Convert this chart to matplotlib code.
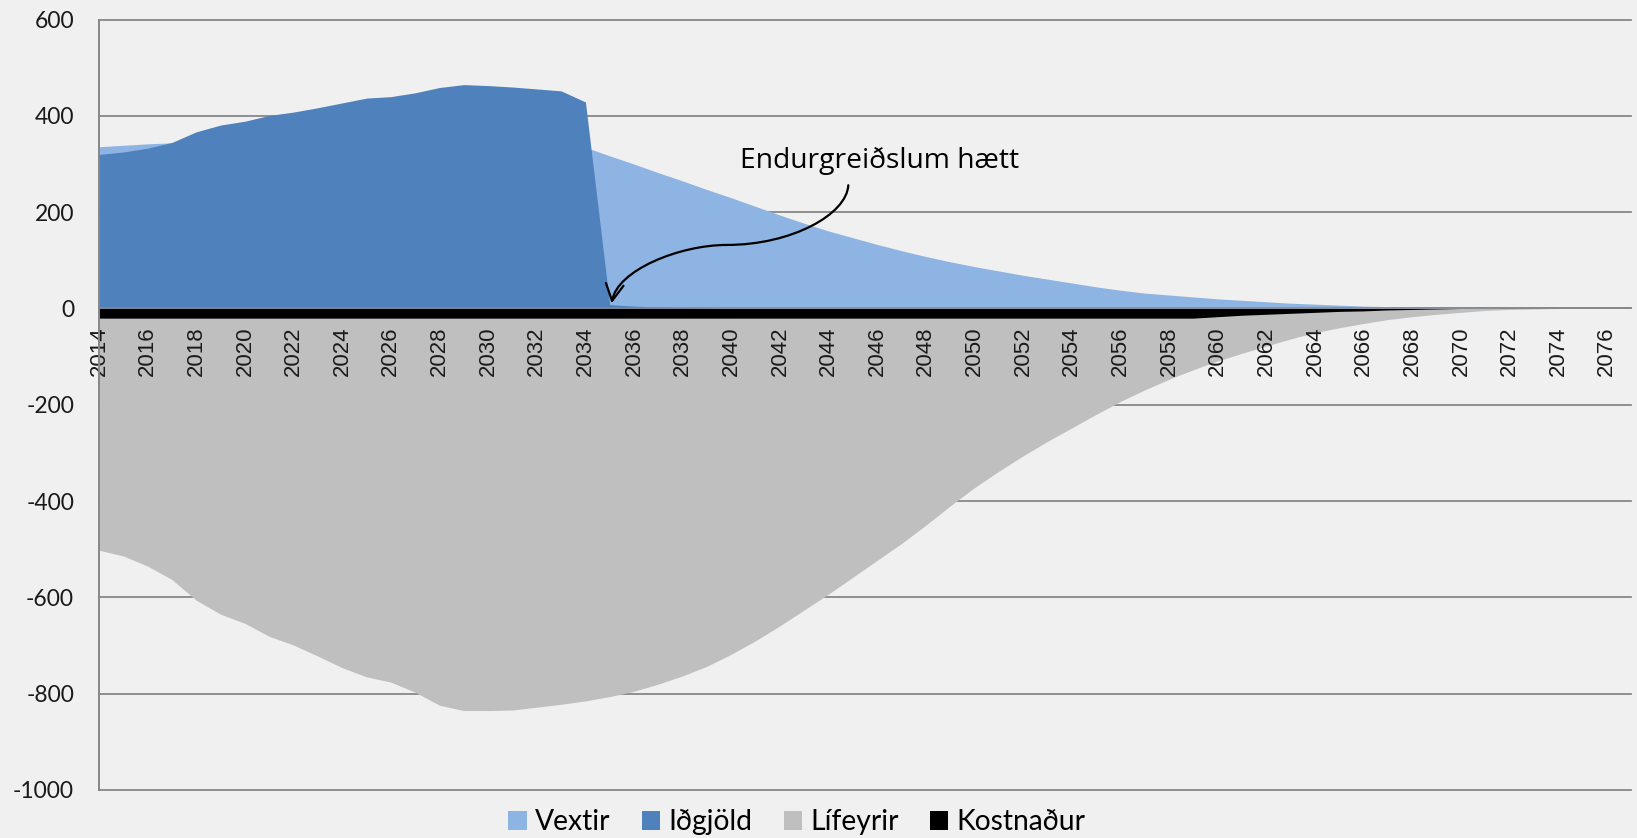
"""Sjodstreymi 2014-2077: Vextir, Idgjold, Lifeyrir og Kostnadur.

Overlapping area chart (not stacked), same as the Excel original.
Writes out.png (1637x838).
"""
import matplotlib

matplotlib.use("Agg")
import matplotlib.pyplot as plt
from matplotlib.patches import FancyArrowPatch
from matplotlib.path import Path

years = list(range(2014, 2078))

vextir = [
    336, 339, 342, 344, 347, 348, 349, 350, 350, 350,      # 2014-2023
    349, 348, 347, 346, 344, 343, 341, 340, 339, 337,      # 2024-2033
    335, 317, 300, 282, 265, 247, 230, 212, 194, 177,      # 2034-2043
    161, 147, 133, 120, 108, 97, 87, 78, 69, 61,           # 2044-2053
    53, 45, 38, 32, 28, 24, 20, 17, 14, 11,                # 2054-2063
    9, 7, 5, 4, 3, 2, 1, 1, 0, 0,                          # 2064-2073
    0, 0, 0, 0,                                            # 2074-2077
]
idgjold = [
    320, 325, 333, 345, 367, 381, 389, 401, 408, 417,
    427, 437, 440, 448, 459, 465, 463, 460, 456, 452,
    429, 8, 5, 3, 2, 1, 0, 0, 0, 0,
    0, 0, 0, 0, 0, 0, 0, 0, 0, 0,
    0, 0, 0, 0, 0, 0, 0, 0, 0, 0,
    0, 0, 0, 0, 0, 0, 0, 0, 0, 0,
    0, 0, 0, 0,
]
lifeyrir = [
    -502, -514, -535, -563, -606, -635, -654, -681, -699, -722,
    -746, -765, -776, -797, -824, -835, -835, -834, -828, -822,
    -815, -806, -795, -780, -763, -743, -718, -690, -659, -626,
    -593, -558, -523, -488, -450, -410, -372, -338, -306, -276,
    -248, -220, -193, -169, -147, -127, -109, -93, -78, -63,
    -50, -40, -31, -23, -17, -12, -8, -4, -2, -1,
    0, 0, 0, 0,
]
kostnadur = [
    -20, -20, -20, -20, -20, -20, -20, -20, -20, -20,
    -20, -20, -20, -20, -20, -20, -20, -20, -20, -20,
    -20, -20, -20, -20, -20, -20, -20, -20, -20, -20,
    -20, -20, -20, -20, -20, -20, -20, -20, -20, -20,
    -20, -20, -20, -20, -20, -20, -17, -14, -12, -10,
    -8, -6, -5, -3, -2, -1, 0, 0, 0, 0,
    0, 0, 0, 0,
]

series_names = ["Vextir", "Iðgjöld", "Lífeyrir", "Kostnaður"]
series_colors = ["#8EB4E3", "#4F81BD", "#BFBFBF", "#000000"]

tick_years = years[::2]
tick_labels = [str(y) for y in tick_years]
y_ticks = [-1000, -800, -600, -400, -200, 0, 200, 400, 600]

note_text = "Endurgreiðslum hætt"
note_pos = (2046.1, 291)
# arrow path (year, value), two cubic segments
arrow_verts = [
    (2044.81, 256), (2044.75, 196), (2042.50, 132), (2039.81, 132),
    (2037.89, 132), (2035.30, 80), (2035.08, 11),
]

BG = "#F0F0F0"
GRID = "#878787"


def main() -> None:
    for s in (vextir, idgjold, lifeyrir, kostnadur):
        assert len(s) == len(years), len(s)

    fig = plt.figure(figsize=(16.37, 8.38), dpi=100, facecolor=BG)
    ax = fig.add_axes([0.0605, 0.0573, 0.9359, 0.9193])
    ax.set_facecolor(BG)

    for vals, name, col in zip((vextir, idgjold, lifeyrir, kostnadur),
                               series_names, series_colors):
        ax.fill_between(years, 0, vals, color=col, lw=0, label=name, zorder=1)

    ax.set_xlim(years[0], years[-1])
    ax.set_ylim(y_ticks[0], y_ticks[-1])

    # gridlines behind the areas, tick labels in front of them
    for v in y_ticks:
        ax.axhline(v, color=GRID, lw=1.3, zorder=0.5, clip_on=False)

    for side in ("top", "right"):
        ax.spines[side].set_visible(False)
    ax.spines["left"].set_color(GRID)
    ax.spines["left"].set_linewidth(1.4)
    ax.spines["bottom"].set_position(("data", 0))
    ax.spines["bottom"].set_color(GRID)
    ax.spines["bottom"].set_linewidth(1.1)

    ax.set_xticks(tick_years)
    ax.set_xticklabels(tick_labels, rotation=90, fontfamily="Liberation Sans",
                       fontsize=16, color="#1a1a1a")
    ax.tick_params(axis="x", length=0, pad=13)
    ax.set_yticks(y_ticks)
    ax.set_yticklabels([str(v) for v in y_ticks], fontfamily="Lato",
                       fontsize=16.5, color="#1a1a1a")
    ax.tick_params(axis="y", length=0, pad=18)

    # annotation
    ax.text(*note_pos, note_text, ha="center", va="baseline",
            fontfamily="Open Sans", fontsize=20.3, color="black", zorder=5)
    codes = [Path.MOVETO] + [Path.CURVE4] * 6
    arrow = FancyArrowPatch(path=Path(arrow_verts, codes),
                            arrowstyle="->,head_length=0.6,head_width=0.32",
                            mutation_scale=20, lw=1.6, color="black", zorder=5)
    ax.add_patch(arrow)

    handles, labels = ax.get_legend_handles_labels()
    fig.legend(handles, labels, loc="center", ncol=4, frameon=False,
               bbox_to_anchor=(797 / 1637, 1 - 822 / 838),
               prop={"family": "Lato", "size": 20.3},
               handlelength=0.65, handleheight=0.65, handletextpad=0.3,
               columnspacing=1.1)

    fig.savefig("out.png", dpi=100, facecolor=BG)
    plt.close(fig)


if __name__ == "__main__":
    main()
